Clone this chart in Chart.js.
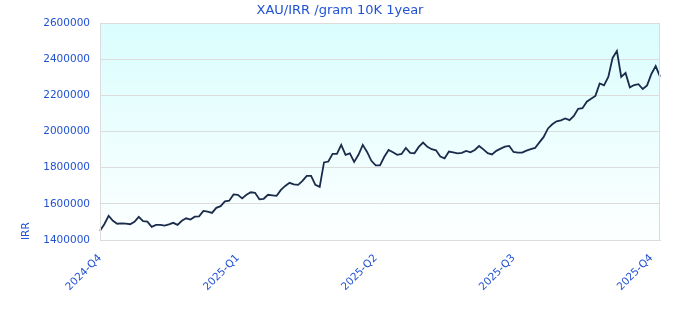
<!DOCTYPE html>
<html>
<head>
<meta charset="utf-8">
<title>XAU/IRR</title>
<script src="https://cdn.jsdelivr.net/npm/chart.js@4.4.1/dist/chart.umd.min.js"></script>
<style>
  html, body { margin: 0; padding: 0; background: #fff; }
  #wrap { width: 680px; height: 320px; }
</style>
</head>
<body>
<div id="wrap"><canvas id="goldChart" width="680" height="320"></canvas></div>
<script>
// data
var quarters = ['2024-Q4', '2025-Q1', '2025-Q2', '2025-Q3', '2025-Q4'];
var quarterIndex = [0, 32, 64, 96, 128];
var yTicks = [1400000, 1600000, 1800000, 2000000, 2200000, 2400000, 2600000];
var prices = [
  1451000, 1487000, 1534000, 1506000, 1490000, 1492000, 1490000, 1487000, 1501000, 1528000,
  1504000, 1502000, 1473000, 1484000, 1484000, 1480000, 1487000, 1495000, 1484000, 1506000,
  1520000, 1513000, 1529000, 1531000, 1561000, 1557000, 1550000, 1578000, 1587000, 1614000,
  1617000, 1652000, 1650000, 1630000, 1650000, 1664000, 1661000, 1625000, 1628000, 1650000,
  1647000, 1644000, 1677000, 1699000, 1716000, 1708000, 1705000, 1727000, 1755000, 1755000,
  1705000, 1694000, 1829000, 1834000, 1876000, 1876000, 1926000, 1871000, 1879000, 1832000,
  1871000, 1926000, 1887000, 1838000, 1813000, 1813000, 1860000, 1898000, 1885000, 1871000,
  1876000, 1909000, 1882000, 1880000, 1915000, 1939000, 1915000, 1902000, 1896000, 1862000,
  1852000, 1889000, 1885000, 1879000, 1882000, 1893000, 1885000, 1898000, 1920000, 1901000,
  1880000, 1873000, 1893000, 1905000, 1916000, 1920000, 1887000, 1883000, 1883000, 1894000,
  1902000, 1909000, 1940000, 1970000, 2017000, 2040000, 2056000, 2062000, 2072000, 2063000,
  2086000, 2125000, 2129000, 2165000, 2181000, 2197000, 2266000, 2255000, 2302000, 2407000,
  2445000, 2302000, 2324000, 2244000, 2257000, 2262000, 2235000, 2255000, 2318000, 2362000,
  2303000
];

var blue = '#2252d4';
var gridColor = '#dcdcdc';
var fontFamily = '"DejaVu Sans", Verdana, sans-serif';

// one label per point, quarter names only at quarter starts
var labels = [];
for (var i = 0; i < prices.length; i++) {
  var q = quarterIndex.indexOf(i);
  labels.push(q >= 0 ? quarters[q] : '');
}

// cyan-to-white background plus border round the plot area
var plotBackground = {
  id: 'plotBackground',
  beforeDraw: function (chart) {
    var a = chart.chartArea;
    var ctx = chart.ctx;
    var grad = ctx.createLinearGradient(0, a.top, 0, a.bottom);
    grad.addColorStop(0, '#dafdfd');
    grad.addColorStop(1, '#fdffff');
    ctx.save();
    ctx.fillStyle = grad;
    ctx.fillRect(a.left, a.top, a.right - a.left, a.bottom - a.top);
    ctx.restore();
  },
  afterDraw: function (chart) {
    var a = chart.chartArea;
    var ctx = chart.ctx;
    ctx.save();
    ctx.strokeStyle = gridColor;
    ctx.lineWidth = 1;
    ctx.strokeRect(a.left + 0.5, a.top + 0.5, a.right - a.left - 1, a.bottom - a.top);
    ctx.restore();
  }
};

var ctx = document.getElementById('goldChart').getContext('2d');
var chart = new Chart(ctx, {
  type: 'line',
  data: {
    labels: labels,
    datasets: [{
      label: 'XAU/IRR',
      data: prices,
      borderColor: '#1b2b4b',
      borderWidth: 1.8,
      pointRadius: 0,
      tension: 0,
      fill: false
    }]
  },
  options: {
    responsive: false,
    animation: false,
    layout: { padding: 0 },
    plugins: {
      legend: { display: false },
      tooltip: { enabled: false },
      title: {
        display: true,
        text: 'XAU/IRR /gram 10K 1year',
        color: blue,
        font: { family: fontFamily, size: 13, weight: 'normal' },
        padding: { top: 3, bottom: 4.4 }
      }
    },
    scales: {
      x: {
        grid: { display: false },
        border: { display: true, color: gridColor },
        ticks: {
          autoSkip: false,
          maxRotation: 45,
          minRotation: 45,
          padding: 4,
          color: blue,
          font: { family: fontFamily, size: 10.5 }
        },
        afterFit: function (scale) { scale.height = 80; }
      },
      y: {
        min: yTicks[0],
        max: yTicks[yTicks.length - 1],
        afterBuildTicks: function (scale) {
          scale.ticks = yTicks.map(function (v) { return { value: v }; });
        },
        grid: { color: gridColor, drawTicks: false },
        border: { display: true, color: gridColor },
        ticks: {
          padding: 10,
          color: blue,
          font: { family: fontFamily, size: 10.5 },
          callback: function (v) { return String(v); }
        },
        title: {
          display: true,
          text: 'IRR',
          align: 'start',
          color: blue,
          font: { family: fontFamily, size: 10.5 },
          padding: { top: 20, bottom: 0 }
        },
        afterFit: function (scale) { scale.width = 100; }
      },
      // empty right axis, only keeps a 20px gap so the title stays centred on the page
      yGap: {
        position: 'right',
        grid: { display: false },
        border: { display: false },
        ticks: { display: false },
        afterFit: function (scale) { scale.width = 20; }
      }
    }
  },
  plugins: [plotBackground]
});
</script>
</body>
</html>
